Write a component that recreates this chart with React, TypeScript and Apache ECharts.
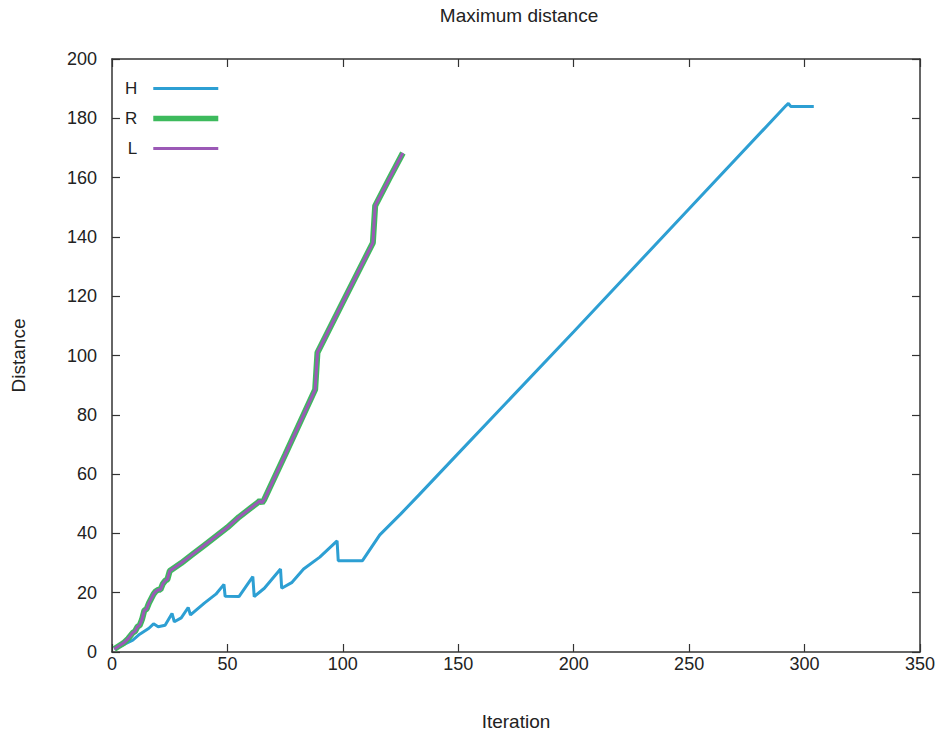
import React, { useEffect, useRef } from "react";
import * as echarts from "echarts";

const titleText = "Maximum distance";
const xName = "Iteration";
const yName = "Distance";

const hIter = [1, 5, 9, 12, 16, 18, 20, 23, 26, 27, 30, 33, 34, 40, 45, 48.5, 49, 55, 61, 61.6, 66, 73, 73.5, 78, 83, 90, 97.5, 98, 108.5, 116, 125, 133, 150, 200, 250, 292, 293, 294, 304];
const hDist = [1, 2.5, 4, 6, 8, 9.5, 8.5, 9, 13, 10.2, 11.5, 15, 12.5, 16.5, 19.5, 22.8, 18.8, 18.7, 25.4, 18.7, 21.5, 28, 21.5, 23.5, 28, 32, 37.5, 30.8, 30.8, 39.5, 46.5, 53, 67, 108, 149.5, 184.3, 185, 184, 184];

const rIter = [1, 3, 5, 7, 9, 10, 11, 12, 13, 14, 15, 16, 17, 18, 19, 20, 21, 22, 23, 24, 25, 30, 35, 40, 45, 50, 55, 60, 63, 64, 65, 66, 75, 88, 89, 100, 113, 114, 120, 126];
const rDist = [1, 2, 3, 4.5, 6.5, 7, 8.5, 9, 11, 14, 14.5, 16.5, 18, 19.5, 20.5, 21, 21, 23, 24, 24.5, 27.3, 30, 33, 36, 39, 42, 45.5, 48.5, 50.3, 51, 50.3, 51.5, 66.5, 88.5, 101, 118, 138, 150.5, 159.5, 168.3];

const lIter = rIter;
const lDist = rDist;

const xTicks = { min: 0, max: 350, interval: 50 };
const yTicks = { min: 0, max: 200, interval: 20 };

const FONT = "Liberation Sans, Arial, sans-serif";
const TXT = "#222";
const FRAME = "#333";
const H_COLOR = "#2d9fd3";
const R_COLOR = "#3dba5d";
const L_COLOR = "#9b59b6";

function pairs(xs: number[], ys: number[]) {
  return xs.map((x, i) => [x, ys[i]]);
}

export default function App() {
  const ref = useRef<HTMLDivElement>(null);
  useEffect(() => {
    if (!ref.current) return;
    const chart = echarts.init(ref.current, undefined, { renderer: "svg" });
    const axisLine = { show: true, onZero: false, lineStyle: { color: FRAME, width: 1.5 } };
    const axisTick = { show: true, inside: true, length: 8, lineStyle: { color: FRAME, width: 1.2 } };
    chart.setOption({
      animation: false,
      backgroundColor: "#fff",
      textStyle: { fontFamily: FONT },
      title: {
        text: titleText,
        left: 514,
        textAlign: "center",
        top: 1,
        textStyle: { fontFamily: FONT, fontSize: 19, fontWeight: "normal", color: TXT },
      },
      grid: { left: 112, right: 18, top: 59, bottom: 85, containLabel: false },
      legend: {
        orient: "vertical",
        align: "right",
        left: 125,
        top: 80,
        padding: 0,
        itemWidth: 65,
        itemHeight: 22,
        itemGap: 13,
        selectedMode: false,
        textStyle: { fontFamily: FONT, fontSize: 17, color: TXT, padding: [0, 11, 0, 0] },
        data: [
          { name: "H", icon: "path://M0,0L65,0L65,3L0,3Z", itemStyle: { color: H_COLOR } },
          { name: "R", icon: "path://M0,0L65,0L65,5.5L0,5.5Z", itemStyle: { color: R_COLOR } },
          { name: "L", icon: "path://M0,0L65,0L65,3L0,3Z", itemStyle: { color: L_COLOR } },
        ],
      },
      xAxis: [
        {
          type: "value",
          position: "bottom",
          ...xTicks,
          name: xName,
          nameLocation: "middle",
          nameGap: 60,
          nameTextStyle: { fontFamily: FONT, fontSize: 19, color: TXT },
          axisLine,
          axisTick,
          axisLabel: { fontFamily: FONT, fontSize: 18, color: TXT, margin: 3 },
          splitLine: { show: false },
        },
        {
          type: "value",
          position: "top",
          ...xTicks,
          axisLine,
          axisTick,
          axisLabel: { show: false },
          splitLine: { show: false },
        },
      ],
      yAxis: [
        {
          type: "value",
          position: "left",
          ...yTicks,
          name: yName,
          nameLocation: "middle",
          nameGap: 84,
          nameRotate: 90,
          nameTextStyle: { fontFamily: FONT, fontSize: 19, color: TXT },
          axisLine,
          axisTick,
          axisLabel: { fontFamily: FONT, fontSize: 18, color: TXT, margin: 15 },
          splitLine: { show: false },
        },
        {
          type: "value",
          position: "right",
          ...yTicks,
          axisLine,
          axisTick,
          axisLabel: { show: false },
          splitLine: { show: false },
        },
      ],
      series: [
        {
          name: "H",
          type: "line",
          xAxisIndex: 0,
          yAxisIndex: 0,
          data: pairs(hIter, hDist),
          symbol: "none",
          showSymbol: false,
          lineStyle: { color: H_COLOR, width: 3 },
          itemStyle: { color: H_COLOR },
          z: 3,
        },
        {
          name: "R",
          type: "line",
          xAxisIndex: 0,
          yAxisIndex: 0,
          data: pairs(rIter, rDist),
          symbol: "none",
          showSymbol: false,
          lineStyle: { color: R_COLOR, width: 6 },
          itemStyle: { color: R_COLOR },
          z: 4,
        },
        {
          name: "L",
          type: "line",
          xAxisIndex: 0,
          yAxisIndex: 0,
          data: pairs(lIter, lDist),
          symbol: "none",
          showSymbol: false,
          lineStyle: { color: L_COLOR, width: 3 },
          itemStyle: { color: L_COLOR },
          z: 5,
        },
      ],
    });
    return () => chart.dispose();
  }, []);
  return <div ref={ref} style={{ width: 938, height: 737, position: "absolute", left: 0, top: 0 }} />;
}
